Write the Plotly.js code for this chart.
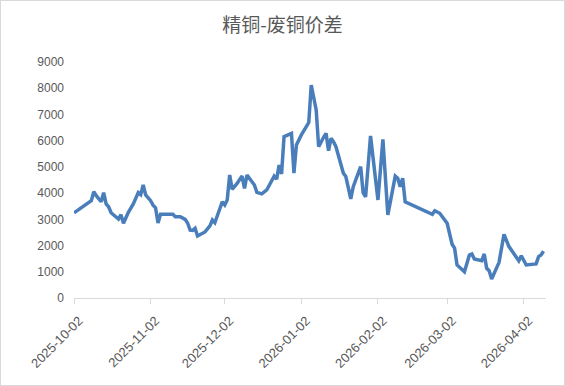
<!DOCTYPE html>
<html>
<head>
<meta charset="utf-8">
<script src="https://cdn.plot.ly/plotly-3.0.1.min.js"></script>
<style>
  html, body { margin: 0; padding: 0; background: #ffffff; }
  #wrap { position: relative; width: 565px; height: 386px; }
  #chart { width: 565px; height: 386px; }
  #frame { position: absolute; left: 0; top: 0; width: 565px; height: 386px; box-sizing: border-box; border: 1px solid #d9d9d9; pointer-events: none; }
</style>
</head>
<body>
<div id="wrap"><div id="chart"></div><div id="frame"></div></div>
<script>
const chartTitle = "精铜-废铜价差";

const dates = [
  "2025-10-02","2025-10-09","2025-10-10","2025-10-11","2025-10-13","2025-10-14","2025-10-15","2025-10-16","2025-10-17",
  "2025-10-19","2025-10-20","2025-10-21","2025-10-22","2025-10-24","2025-10-26","2025-10-28","2025-10-29","2025-10-30","2025-10-31",
  "2025-11-02","2025-11-03","2025-11-04","2025-11-05","2025-11-06","2025-11-11","2025-11-12","2025-11-14","2025-11-16","2025-11-17",
  "2025-11-18","2025-11-19","2025-11-20","2025-11-21","2025-11-24","2025-11-26","2025-11-27","2025-11-28",
  "2025-12-01","2025-12-02","2025-12-03","2025-12-04","2025-12-05","2025-12-07","2025-12-09","2025-12-10","2025-12-11","2025-12-12",
  "2025-12-14","2025-12-15","2025-12-17","2025-12-19","2025-12-21","2025-12-22","2025-12-23","2025-12-24","2025-12-25","2025-12-26",
  "2025-12-29","2025-12-30","2025-12-31",
  "2026-01-02","2026-01-05","2026-01-06","2026-01-08","2026-01-09","2026-01-11","2026-01-12","2026-01-13","2026-01-14","2026-01-15",
  "2026-01-16","2026-01-19","2026-01-20","2026-01-22","2026-01-23","2026-01-26","2026-01-27","2026-01-28","2026-01-30",
  "2026-02-02","2026-02-04","2026-02-06","2026-02-09","2026-02-10","2026-02-11","2026-02-12","2026-02-13","2026-02-24","2026-02-25","2026-02-27",
  "2026-03-02","2026-03-04","2026-03-05","2026-03-06","2026-03-09","2026-03-11","2026-03-12","2026-03-13","2026-03-16","2026-03-17",
  "2026-03-18","2026-03-19","2026-03-20","2026-03-23","2026-03-25","2026-03-27","2026-03-31",
  "2026-04-01","2026-04-03","2026-04-07","2026-04-08","2026-04-09","2026-04-10"
];

const spread = [
  3250,3710,4050,3900,3670,4020,3590,3480,3250,
  3100,3010,3180,2850,3270,3590,4020,3940,4310,3930,
  3710,3540,3440,2860,3190,3190,3100,3100,3000,2850,
  2590,2580,2660,2365,2520,2750,2975,2870,
  3670,3550,3740,4690,4145,4370,4650,4180,4690,4550,
  4310,4030,3970,4120,4440,4650,4530,5070,4730,6150,
  6280,4760,5840,
  6220,6690,8120,7170,5770,6130,6280,5620,6090,5960,
  5770,4760,4630,3780,4245,5010,4020,3860,6180,
  3740,6050,3170,4650,4570,4245,4570,3670,3190,3330,3230,
  2850,2050,1900,1260,1000,1640,1680,1490,1420,1680,
  1130,1040,725,1360,2430,1960,1420,
  1610,1260,1300,1580,1640,1790
];

const xTickVals = ["2025-10-02","2025-11-02","2025-12-02","2026-01-02","2026-02-02","2026-03-02","2026-04-02"];
const xTickText = ["2025-10-02","2025-11-02","2025-12-02","2026-01-02","2026-02-02","2026-03-02","2026-04-02"];
const yTickVals = [0,1000,2000,3000,4000,5000,6000,7000,8000,9000];

const grey = "#595959";
const yTickFont = {family: "Liberation Sans, Arial, sans-serif", size: 12, color: grey};
const xTickFont = {family: "Liberation Sans, Arial, sans-serif", size: 13, color: grey};

Plotly.newPlot("chart", [{
  type: "scatter",
  mode: "lines",
  x: dates,
  y: spread,
  line: {color: "#4a7ebb", width: 3.5},
  hoverinfo: "x+y"
}], {
  width: 565,
  height: 386,
  margin: {l: 74, r: 19, t: 62, b: 88},
  paper_bgcolor: "#ffffff",
  plot_bgcolor: "#ffffff",
  showlegend: false,
  title: {
    text: chartTitle,
    font: {family: "Noto Sans CJK SC, sans-serif", size: 19, color: grey},
    xref: "container", x: 0.5, xanchor: "center",
    yref: "container", y: 1 - 25/386, yanchor: "middle"
  },
  xaxis: {
    type: "date",
    range: ["2025-10-02", "2026-04-11"],
    tickmode: "array",
    tickvals: xTickVals,
    ticktext: xTickText,
    tickangle: -45,
    tickfont: xTickFont,
    ticklabelshift: 5,
    ticklabelstandoff: 4,
    ticks: "outside",
    ticklen: 5,
    tickcolor: "#d9d9d9",
    showline: true,
    linecolor: "#d9d9d9",
    linewidth: 1,
    showgrid: false,
    zeroline: false
  },
  yaxis: {
    range: [0, 9000],
    tickmode: "array",
    tickvals: yTickVals,
    ticktext: yTickVals.map(String),
    tickfont: yTickFont,
    ticks: "",
    ticklabelstandoff: 9,
    showline: false,
    showgrid: false,
    zeroline: false
  }
}, {displayModeBar: false, staticPlot: true});
</script>
</body>
</html>
